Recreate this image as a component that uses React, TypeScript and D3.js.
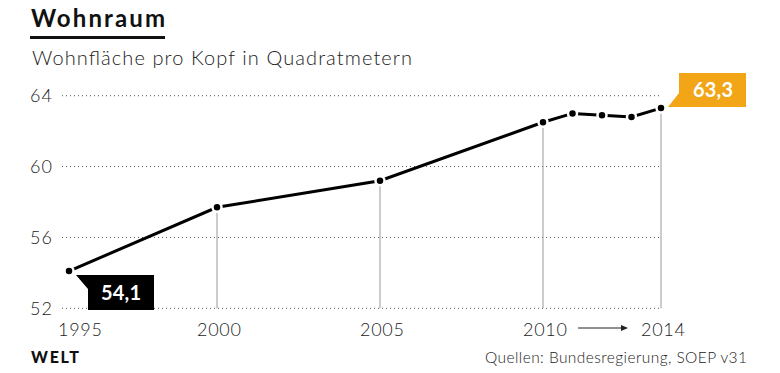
import React from "react";
import * as d3 from "d3";

const years = [1995, 2000, 2005, 2010, 2011, 2012, 2013, 2014];
const values = [54.1, 57.7, 59.2, 62.5, 63.0, 62.9, 62.8, 63.3];
const yTicks = [52, 56, 60, 64];
const xTickYears = [1995, 2000, 2005, 2010, 2014];
const dropYears = [2000, 2005, 2010, 2014];

const FONT = "Lato, 'Open Sans', sans-serif";

const App = () => {
  const width = 780;
  const height = 373;

  // piecewise: the source stretches 2000-2010 a bit
  const x = d3.scaleLinear().domain([1995, 2000, 2010, 2014]).range([69, 217, 543, 661]);
  const y = d3.scaleLinear().domain([52, 64]).range([308.3, 95.7]);

  const data = years.map((yr, i) => ({ year: yr, value: values[i] }));
  const line = d3
    .line<{ year: number; value: number }>()
    .x((d) => x(d.year))
    .y((d) => y(d.value));

  const first = data[0];
  const last = data[data.length - 1];
  const fx = x(first.year);
  const fy = y(first.value);
  const lx = x(last.year);
  const ly = y(last.value);

  const fmt = (v: number) => v.toFixed(1).replace(".", ",");

  return (
    <svg
      width={width}
      height={height}
      style={{ position: "absolute", left: 0, top: 0, background: "#fff" }}
      fontFamily={FONT}
    >
      {/* title */}
      <text x={31} y={27} fontSize={24} fontWeight={700} fill="#111" textLength={134} lengthAdjust="spacing">
        Wohnraum
      </text>
      <rect x={30} y={36} width={135} height={3} fill="#111" />
      <text x={32} y={65} fontSize={20} fontWeight={300} fill="#222" textLength={380} lengthAdjust="spacing">
        Wohnfläche pro Kopf in Quadratmetern
      </text>

      {/* grid */}
      {yTicks.map((t) => (
        <g key={t}>
          <line
            x1={62}
            x2={x(2014)}
            y1={y(t)}
            y2={y(t)}
            stroke="#555"
            strokeWidth={1}
            strokeDasharray="1 3"
          />
          <text
            x={52}
            y={y(t)}
            dy="0.36em"
            textAnchor="end"
            fontSize={18}
            fontWeight={300}
            fill="#222"
            textLength={22}
            lengthAdjust="spacing"
          >
            {t}
          </text>
        </g>
      ))}

      {/* drop lines */}
      {dropYears.map((yr) => {
        const d = data.find((p) => p.year === yr)!;
        return (
          <line
            key={yr}
            x1={x(yr)}
            x2={x(yr)}
            y1={y(d.value)}
            y2={y(52)}
            stroke="#999"
            strokeWidth={1}
          />
        );
      })}

      {/* x labels */}
      {xTickYears.map((yr) => (
        <text
          key={yr}
          x={yr === 1995 ? 58 : x(yr) + 2}
          y={336}
          textAnchor={yr === 1995 ? "start" : "middle"}
          fontSize={18}
          fontWeight={300}
          fill="#222"
          textLength={44}
          lengthAdjust="spacing"
        >
          {yr}
        </text>
      ))}
      <line x1={578} x2={622} y1={328} y2={328} stroke="#222" strokeWidth={1} />
      <path d="M621,325 L628,328 L621,331 Z" fill="#222" />

      {/* line */}
      <path d={line(data) || ""} fill="none" stroke="#000" strokeWidth={3} />
      {data.map((d) => (
        <circle
          key={d.year}
          cx={x(d.year)}
          cy={y(d.value)}
          r={4.5}
          fill="#000"
          stroke="#fff"
          strokeWidth={2.5}
        />
      ))}

      {/* callouts */}
      <path
        d={`M${fx + 7},${fy + 4} L${fx + 85},${fy + 4} L${fx + 85},${fy + 39} L${fx + 19},${fy + 39} L${fx + 19},${fy + 18} Z`}
        fill="#000"
      />
      <text
        x={fx + 52}
        y={fy + 22}
        dy="0.36em"
        textAnchor="middle"
        fontSize={20}
        fontWeight={700}
        fill="#fff"
        textLength={40}
        lengthAdjust="spacing"
      >
        {fmt(first.value)}
      </text>
      <path
        d={`M${lx + 7},${ly - 1} L${lx + 18},${ly - 15} L${lx + 18},${ly - 35} L${lx + 85},${ly - 35} L${lx + 85},${ly - 1} Z`}
        fill="#F2A516"
      />
      <text
        x={lx + 52}
        y={ly - 18}
        dy="0.36em"
        textAnchor="middle"
        fontSize={20}
        fontWeight={700}
        fill="#fff"
        textLength={40}
        lengthAdjust="spacing"
      >
        {fmt(last.value)}
      </text>

      {/* footer */}
      <text x={31} y={363} fontSize={16} fontWeight={900} fill="#111" textLength={48} lengthAdjust="spacing">
        WELT
      </text>
      <text x={485} y={363} fontSize={15.5} fontWeight={300} fill="#222" textLength={262} lengthAdjust="spacing">
        Quellen: Bundesregierung, SOEP v31
      </text>
    </svg>
  );
};

export default App;
